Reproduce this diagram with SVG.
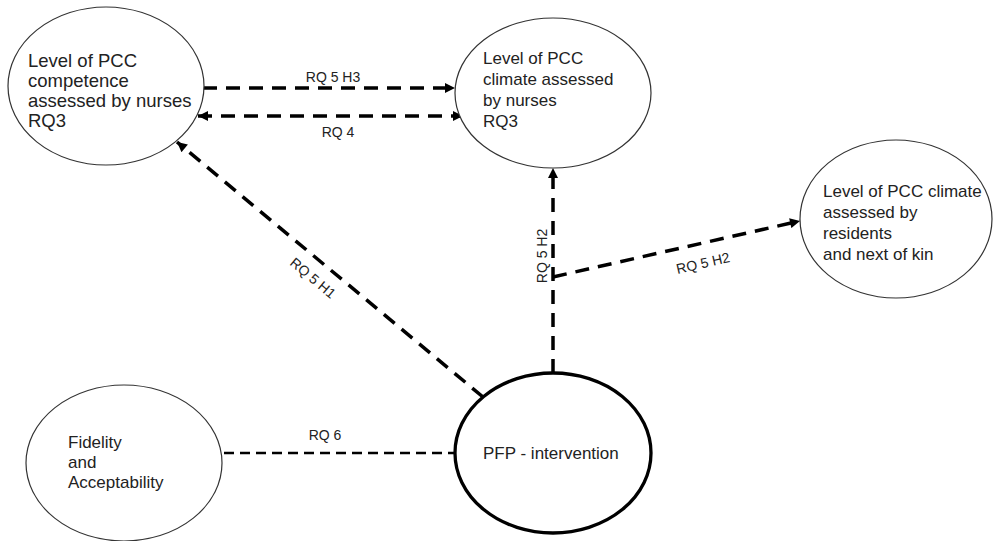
<svg xmlns="http://www.w3.org/2000/svg" width="993" height="541" viewBox="0 0 993 541">
  <style>
    .node { fill: #ffffff; stroke: #333333; stroke-width: 1.2; }
    .node-main { fill: #ffffff; stroke: #000000; stroke-width: 3.3; }
    .label { font-family: "Liberation Sans", Arial, sans-serif; font-size: 17px; fill: #222222; }
    .label-lg { font-size: 18.5px; }
    .edge-label { font-family: "Liberation Sans", Arial, sans-serif; font-size: 14px; fill: #222222; }
    .link { fill: none; stroke: #000000; stroke-width: 3.5; stroke-dasharray: 14 9; }
    .link-thin { fill: none; stroke: #000000; stroke-width: 2.6; stroke-dasharray: 10 6; }
  </style>
  <defs>
    <marker id="arrow" viewBox="0 0 10 10" refX="10" refY="5" markerWidth="11" markerHeight="10" markerUnits="userSpaceOnUse" orient="auto-start-reverse">
      <path d="M0,0 L10,5 L0,10 Z" fill="#000000"/>
    </marker>
  </defs>

  <rect width="993" height="541" fill="#ffffff"/>

  <!-- connectors -->
  <g id="connectors">
    <line class="link" x1="203" y1="88" x2="455" y2="88" marker-end="url(#arrow)"/>
    <line class="link" x1="198" y1="116" x2="463" y2="116" marker-start="url(#arrow)" marker-end="url(#arrow)"/>
    <line class="link" x1="483" y1="397" x2="177" y2="142" marker-end="url(#arrow)"/>
    <line class="link" x1="553" y1="373" x2="553" y2="168" marker-end="url(#arrow)"/>
    <line class="link" x1="553" y1="277" x2="800" y2="221" marker-end="url(#arrow)"/>
    <line class="link-thin" x1="224" y1="453" x2="455" y2="453"/>

    <text class="edge-label" x="333" y="82" text-anchor="middle">RQ 5 H3</text>
    <text class="edge-label" x="338" y="137" text-anchor="middle">RQ 4</text>
    <text class="edge-label" transform="translate(313,278) rotate(40)" text-anchor="middle" dy="5">RQ 5 H1</text>
    <text class="edge-label" transform="translate(542,256) rotate(-90)" text-anchor="middle" dy="5">RQ 5 H2</text>
    <text class="edge-label" transform="translate(703,263) rotate(-13)" text-anchor="middle" dy="5">RQ 5 H2</text>
    <text class="edge-label" x="325" y="440" text-anchor="middle">RQ 6</text>
  </g>

  <!-- nodes -->
  <g id="competence-nurses">
    <ellipse class="node" cx="106" cy="86" rx="98" ry="79"/>
    <text class="label label-lg" x="28" y="67">Level of PCC</text>
    <text class="label label-lg" x="28" y="87">competence</text>
    <text class="label label-lg" x="28" y="107">assessed by nurses</text>
    <text class="label label-lg" x="28" y="127">RQ3</text>
  </g>

  <g id="climate-nurses">
    <ellipse class="node" cx="553" cy="93" rx="98" ry="75"/>
    <text class="label" x="483" y="64">Level of PCC</text>
    <text class="label" x="483" y="85">climate assessed</text>
    <text class="label" x="483" y="106">by nurses</text>
    <text class="label" x="483" y="127">RQ3</text>
  </g>

  <g id="climate-residents">
    <ellipse class="node" cx="896" cy="219" rx="96" ry="79"/>
    <text class="label" x="823" y="197">Level of PCC climate</text>
    <text class="label" x="823" y="218">assessed by</text>
    <text class="label" x="823" y="239">residents</text>
    <text class="label" x="823" y="260">and next of kin</text>
  </g>

  <g id="fidelity">
    <ellipse class="node" cx="124" cy="463" rx="98" ry="78"/>
    <text class="label" x="68" y="448">Fidelity</text>
    <text class="label" x="68" y="468">and</text>
    <text class="label" x="68" y="488">Acceptability</text>
  </g>

  <g id="pfp-intervention">
    <ellipse class="node-main" cx="553" cy="453" rx="98" ry="80"/>
    <text class="label" x="483" y="459">PFP - intervention</text>
  </g>
</svg>
